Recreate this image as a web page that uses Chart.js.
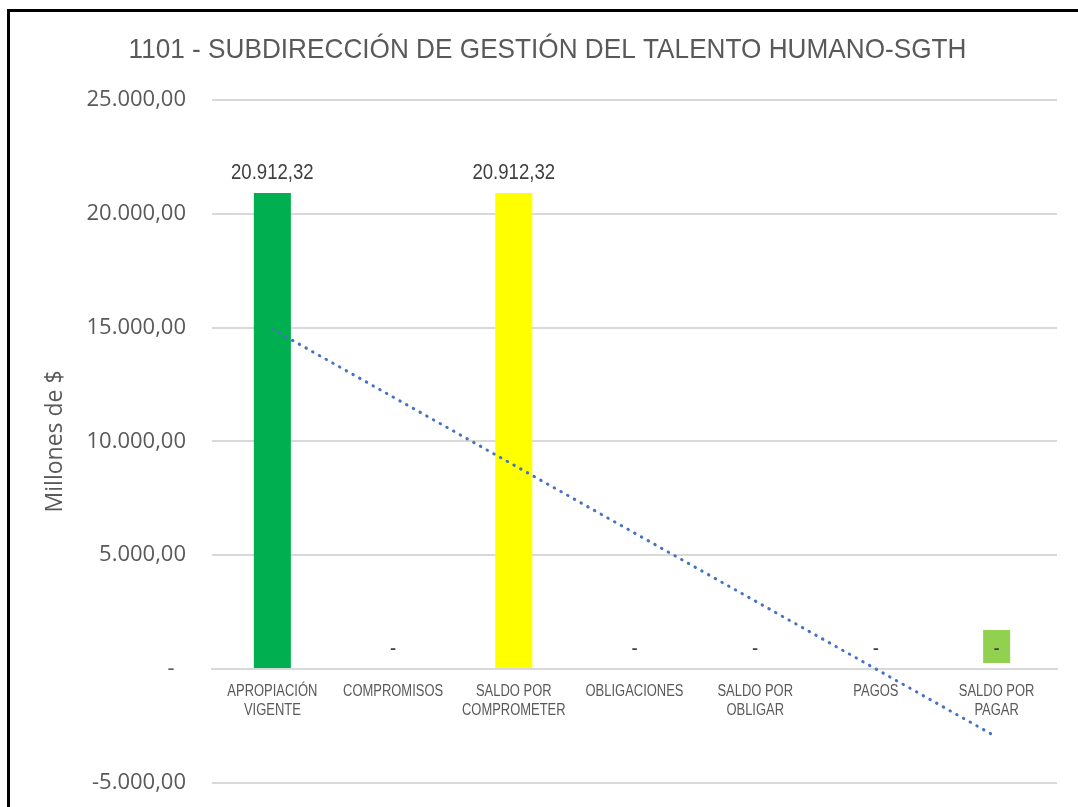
<!DOCTYPE html>
<html>
<head>
<meta charset="utf-8">
<script src="https://cdn.jsdelivr.net/npm/chart.js@4/dist/chart.umd.min.js"></script>
<style>
  body { margin: 0; background: #fff; overflow: hidden; }
  .frame { position: absolute; left: 7px; top: 9px; width: 1200px; height: 900px; border: 3px solid #000; }
  #budgetChart { position: absolute; left: 0; top: 0; }
</style>
</head>
<body>
<div class="frame">
  <canvas id="budgetChart" width="1075" height="810"></canvas>
</div>
<script>
const chartTitle = '1101 - SUBDIRECCIÓN DE GESTIÓN DEL TALENTO HUMANO-SGTH';
const categories = [
  ['APROPIACIÓN', 'VIGENTE'],
  ['COMPROMISOS'],
  ['SALDO POR', 'COMPROMETER'],
  ['OBLIGACIONES'],
  ['SALDO POR', 'OBLIGAR'],
  ['PAGOS'],
  ['SALDO POR', 'PAGAR']
];
const values = [20912.32, 0, 20912.32, 0, 0, 0, 0];
const yTicks = [-5000, 0, 5000, 10000, 15000, 20000, 25000];

const barColors = ['#00B050', '#00B050', '#FFFF00', '#00B050', '#00B050', '#00B050', '#92D050'];
const labelBoxes = [null, null, null, null, null, null, '#92D050'];

// linear trendline (least squares over category index), like Excel's
function trend(vals) {
  const n = vals.length;
  let sx = 0, sy = 0, sxy = 0, sxx = 0;
  vals.forEach((v, i) => { sx += i; sy += v; sxy += i * v; sxx += i * i; });
  const b = (n * sxy - sx * sy) / (n * sxx - sx * sx);
  const a = (sy - b * sx) / n;
  return vals.map((v, i) => a + b * i);
}

function fmt(v) {
  if (v === 0) return '-';
  const neg = v < 0;
  const parts = Math.abs(v).toFixed(2).split('.');
  const int = parts[0].replace(/\B(?=(\d{3})+(?!\d))/g, '.');
  return (neg ? '-' : '') + int + ',' + parts[1];
}

const sans = "'Liberation Sans', Arial, sans-serif";

// no narrow face installed, so squeeze Liberation Sans horizontally
function narrowText(ctx, text, x, y, sx) {
  ctx.save();
  ctx.translate(x, y);
  ctx.scale(sx, 1);
  ctx.fillText(text, 0, 0);
  ctx.restore();
}

const textLayer = {
  id: 'textLayer',
  afterDraw(chart) {
    const ctx = chart.ctx;
    const xs = chart.scales.x;
    const y0 = chart.scales.y.getPixelForValue(0);
    ctx.save();
    ctx.textAlign = 'center';
    ctx.textBaseline = 'alphabetic';

    // title
    ctx.fillStyle = '#595959';
    ctx.font = '28px ' + sans;
    narrowText(ctx, chartTitle, chart.width / 2, 46, 0.935);

    // category labels under the zero line
    ctx.font = '16px ' + sans;
    categories.forEach((lines, i) => {
      const x = xs.getPixelForValue(i);
      lines.forEach((t, k) => narrowText(ctx, t, x, y0 + 27 + k * 19, 0.81));
    });

    // data labels
    const meta = chart.getDatasetMeta(1);
    ctx.font = '22px ' + sans;
    meta.data.forEach((el, i) => {
      if (labelBoxes[i]) {
        ctx.fillStyle = labelBoxes[i];
        ctx.fillRect(el.x - 13.5, el.y - 39, 27, 33);
      }
      ctx.fillStyle = '#404040';
      narrowText(ctx, fmt(values[i]), el.x, el.y - 14.5, 0.845);
    });
    ctx.restore();
  }
};

new Chart(document.getElementById('budgetChart'), {
  type: 'bar',
  data: {
    labels: categories,
    datasets: [{
      type: 'line',
      label: 'Tendencia',
      data: trend(values),
      borderColor: '#4472C4',
      borderWidth: 3,
      borderDash: [0.5, 7.2],
      borderCapStyle: 'round',
      pointRadius: 0,
      fill: false,
      order: 0
    }, {
      label: 'Millones de $',
      data: values,
      backgroundColor: barColors,
      barPercentage: 0.307,
      categoryPercentage: 1,
      order: 1
    }]
  },
  options: {
    responsive: false,
    animation: false,
    layout: { padding: { left: 0, right: 28, top: 88, bottom: 20 } },
    plugins: {
      legend: { display: false },
      title: { display: false }
    },
    scales: {
      x: {
        position: { y: 0 },
        grid: { display: false, drawTicks: false },
        border: { display: true, color: '#D9D9D9', width: 2 },
        ticks: { display: false }
      },
      y: {
        min: -5000,
        max: 25000,
        afterFit: s => { s.width = 202; },
        afterBuildTicks: s => { s.ticks = yTicks.map(v => ({ value: v })); },
        grid: { color: '#D9D9D9', lineWidth: 2, drawTicks: false },
        border: { display: false },
        ticks: {
          color: '#595959',
          font: { family: "'Open Sans', sans-serif", size: 22 },
          padding: 26,
          callback: v => (v === 0 ? '-  ' : fmt(v))
        },
        title: {
          display: true,
          text: 'Millones de $',
          color: '#595959',
          font: { family: "'Open Sans', sans-serif", size: 23 },
          padding: { top: 32, bottom: 0 }
        }
      }
    }
  },
  plugins: [textLayer]
});
</script>
</body>
</html>
